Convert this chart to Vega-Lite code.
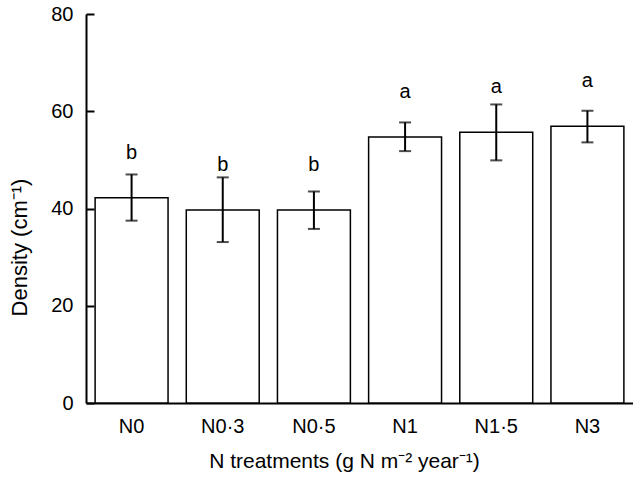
{
  "$schema": "https://vega.github.io/schema/vega-lite/v6.json",
  "width": 547,
  "height": 389,
  "autosize": "none",
  "padding": {"left": 86, "top": 14, "right": 0, "bottom": 74},
  "background": "white",
  "config": {
    "view": {"stroke": null},
    "font": "Liberation Sans",
    "axis": {
      "domainColor": "black",
      "domainWidth": 2,
      "tickColor": "black",
      "tickWidth": 2,
      "labelColor": "black",
      "titleColor": "black",
      "labelFont": "Liberation Sans",
      "titleFont": "Liberation Sans",
      "labelFontSize": 20,
      "titleFontSize": 21,
      "titleFontWeight": "normal",
      "grid": false
    }
  },
  "data": {
    "values": [
      {"treatment": "N0", "density": 42.2, "lower": 37.5, "upper": 47.0, "group": "b"},
      {"treatment": "N0·3", "density": 39.7, "lower": 33.1, "upper": 46.4, "group": "b"},
      {"treatment": "N0·5", "density": 39.7, "lower": 35.8, "upper": 43.5, "group": "b"},
      {"treatment": "N1", "density": 54.7, "lower": 51.8, "upper": 57.7, "group": "a"},
      {"treatment": "N1·5", "density": 55.7, "lower": 49.9, "upper": 61.4, "group": "a"},
      {"treatment": "N3", "density": 56.9, "lower": 53.6, "upper": 60.1, "group": "a"}
    ]
  },
  "encoding": {
    "x": {
      "field": "treatment",
      "type": "nominal",
      "sort": null,
      "scale": {"paddingInner": 0.2, "paddingOuter": 0.1},
      "axis": {
        "title": "N treatments (g N m⁻² year⁻¹)",
        "labelAngle": 0,
        "tickSize": -7,
        "labelPadding": 20,
        "titleX": 258,
        "titleAlign": "center",
        "titleY": 64,
        "titleBaseline": "alphabetic"
      }
    }
  },
  "layer": [
    {
      "mark": {"type": "bar", "fill": "white", "stroke": "black", "strokeWidth": 1.5},
      "encoding": {
        "y": {
          "field": "density",
          "type": "quantitative",
          "scale": {"domain": [0, 80]},
          "axis": {
            "title": "Density (cm⁻¹)",
            "values": [0, 20, 40, 60, 80],
            "tickSize": -8,
            "labelPadding": 21,
            "titleFontSize": 22,
            "titleX": -60,
            "titleY": 233,
            "titleAlign": "center",
            "titleBaseline": "alphabetic"
          }
        }
      }
    },
    {
      "mark": {"type": "rule", "strokeWidth": 2, "color": "black"},
      "encoding": {
        "y": {"field": "lower", "type": "quantitative"},
        "y2": {"field": "upper"}
      }
    },
    {
      "mark": {"type": "tick", "thickness": 2, "size": 12, "color": "black", "orient": "horizontal"},
      "encoding": {"y": {"field": "upper", "type": "quantitative"}}
    },
    {
      "mark": {"type": "tick", "thickness": 2, "size": 12, "color": "black", "orient": "horizontal"},
      "encoding": {"y": {"field": "lower", "type": "quantitative"}}
    },
    {
      "mark": {"type": "text", "dy": -45, "fontSize": 20, "baseline": "middle", "font": "Liberation Sans", "color": "black"},
      "encoding": {
        "y": {"field": "density", "type": "quantitative"},
        "text": {"field": "group"}
      }
    }
  ]
}
